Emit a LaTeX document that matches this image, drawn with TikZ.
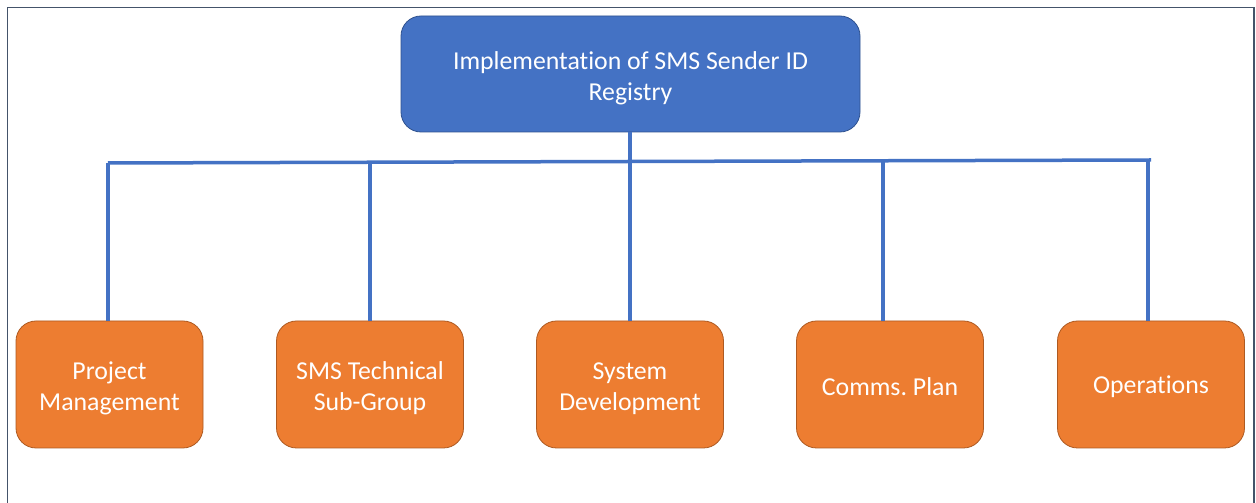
\documentclass[tikz,border=0pt]{standalone}
\usepackage{fontspec}
\setmainfont{Carlito}[Ligatures=NoCommon]
\frenchspacing
\usetikzlibrary{calc}
\definecolor{rootfill}{HTML}{4472C4}
\definecolor{rootedge}{HTML}{2F528F}
\definecolor{leaffill}{HTML}{ED7D31}
\definecolor{leafedge}{HTML}{AE5A21}
\definecolor{framecol}{HTML}{44546A}
\definecolor{linkcol}{HTML}{4472C4}
\tikzset{
  rootbox/.style={draw=rootedge, line width=0.8pt, fill=rootfill, rounded corners=20pt,
    minimum width=459pt, minimum height=116pt, inner sep=0pt},
  leafbox/.style={draw=leafedge, line width=0.8pt, fill=leaffill, rounded corners=20pt,
    minimum width=187pt, minimum height=127pt, inner sep=0pt},
  boxtext/.style={text=white, align=center, inner sep=0pt,
    font=\fontsize{25.8}{31}\selectfont},
  link/.style={draw=linkcol, line width=3.5pt},
}
\begin{document}
\begin{tikzpicture}[x=1pt,y=1pt]
  \useasboundingbox (0,0) rectangle (1256,503);
  \fill[white] (0,0) rectangle (1256,503);
  % outer frame (open at the bottom edge of the page)
  \draw[framecol, line width=1.6pt] (7.5,-10) -- (7.5,495.5) -- (1254,495.5) -- (1254,-10);

  % boxes
  \node[rootbox] (root) at (630.5,429) {};
  \node[leafbox] (pm)    at (109.5,118.5) {};
  \node[leafbox] (tech)  at (370,118.5)   {};
  \node[leafbox] (dev)   at (630,118.5)   {};
  \node[leafbox] (comms) at (890,118.5)   {};
  \node[leafbox] (ops)   at (1151,118.5)  {};

  % box captions
  \node[boxtext] (rootT)  at ([yshift=-4pt]root.center)  {Implementation of SMS Sender ID\\Registry};
  \node[boxtext] (pmT)    at ([yshift=-4pt]pm.center)    {Project\\Management};
  \node[boxtext] (techT)  at ([yshift=-4pt]tech.center)  {SMS Technical\\Sub-Group};
  \node[boxtext] (devT)   at ([yshift=-4pt]dev.center)   {System\\Development};
  \node[boxtext] (commsT) at ([yshift=-2pt]comms.center) {Comms. Plan};
  \node[boxtext] (opsT)   at ([yshift=-2pt]ops.center)   {Operations};

  % horizontal bus
  \coordinate (busL) at (108,340);
  \coordinate (busR) at (1151,343);
  \coordinate (b1) at (108,340);
  \coordinate (b2) at (370,340.75);
  \coordinate (b3) at (630,341.5);
  \coordinate (b4) at (883,342.2);
  \coordinate (b5) at (1148,343);

  \draw[link] (busL) -- (busR);
  \draw[link] (root.south -| b3) -- (b3);
  \draw[link] (b1) -- (pm.north -| b1);
  \draw[link] (b2) -- (tech.north -| b2);
  \draw[link] (b3) -- (dev.north -| b3);
  \draw[link] (b4) -- (comms.north -| b4);
  \draw[link] (b5) -- (ops.north -| b5);
\end{tikzpicture}
\end{document}
